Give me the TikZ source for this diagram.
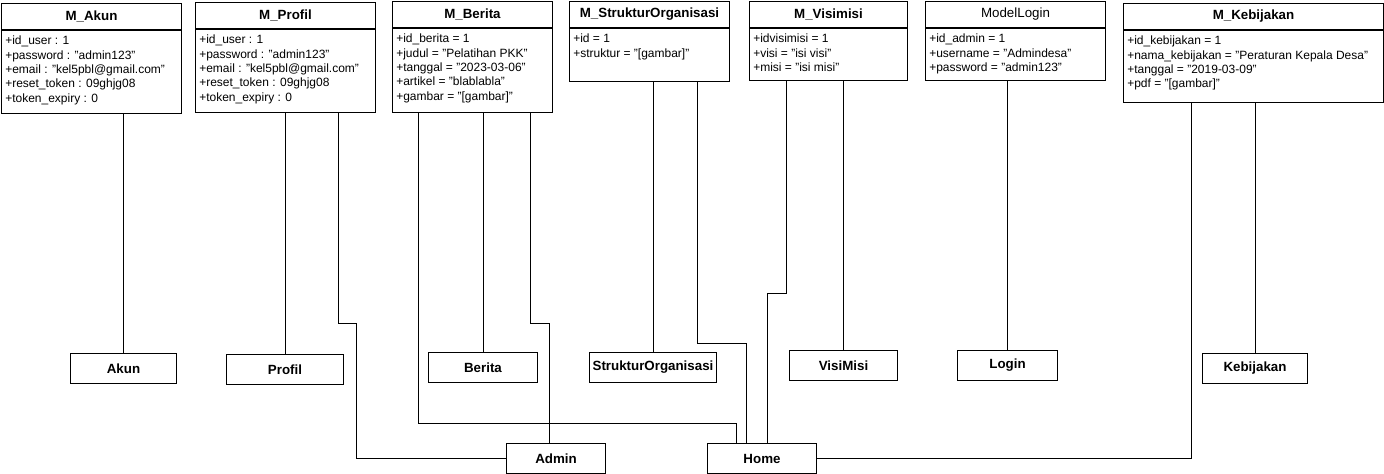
\documentclass[tikz,border=0pt]{standalone}
\usepackage{fontspec}
\setmainfont{Liberation Sans}
\usepackage{tikz}
\usetikzlibrary{positioning}
\newdimen\pxl
\pxl=0.75pt
\tikzset{
  classhead/.style={draw, line width=0.75pt, anchor=north west, minimum height=26\pxl, inner sep=0pt, font=\bfseries},
  classbody/.style={draw, line width=0.75pt, inner sep=0pt},
  attrtext/.style={anchor=north west, align=left, inner xsep=4\pxl, inner ysep=6\pxl},
  viewbox/.style={draw, line width=0.75pt, anchor=north west, minimum height=30\pxl, inner sep=0pt, font=\bfseries},
  link/.style={line width=0.75pt}
}

\begin{document}
\begin{tikzpicture}[x=0.75pt, y=-0.75pt, font=\fontsize{9}{10.7}\selectfont]
    \useasboundingbox (0,0) rectangle (1384,474);

    \node[classhead, minimum width=180\pxl] (mAkun) at (1,3) {M\_Akun};
    \node[classbody, minimum width=180\pxl, minimum height=83\pxl, below=0pt of mAkun] (mAkunBody) {};
    \node[attrtext] (mAkunText) at (mAkunBody.north west) {
        +id\_user : 1\\
        +password : "admin123"\\
        +email : "kel5pbl@gmail.com"\\
        +reset\_token : 09ghjg08\\
        +token\_expiry : 0
    };

    \node[classhead, minimum width=180\pxl] (mProfil) at (195,2) {M\_Profil};
    \node[classbody, minimum width=180\pxl, minimum height=83\pxl, below=0pt of mProfil] (mProfilBody) {};
    \node[attrtext] (mProfilText) at (mProfilBody.north west) {
        +id\_user : 1\\
        +password : "admin123"\\
        +email : "kel5pbl@gmail.com"\\
        +reset\_token : 09ghjg08\\
        +token\_expiry : 0
    };

    \node[classhead, minimum width=160\pxl] (mBerita) at (392,1) {M\_Berita};
    \node[classbody, minimum width=160\pxl, minimum height=84\pxl, below=0pt of mBerita] (mBeritaBody) {};
    \node[attrtext] (mBeritaText) at (mBeritaBody.north west) {
        +id\_berita = 1\\
        +judul = "Pelatihan PKK"\\
        +tanggal = "2023-03-06"\\
        +artikel = "blablabla"\\
        +gambar = "[gambar]"
    };

    \node[classhead, minimum width=160\pxl] (mStruktur) at (569,1) {M\_StrukturOrganisasi};
    \node[classbody, minimum width=160\pxl, minimum height=53\pxl, below=0pt of mStruktur] (mStrukturBody) {};
    \node[attrtext] (mStrukturText) at (mStrukturBody.north west) {
        +id = 1\\
        +struktur = "[gambar]"
    };

    \node[classhead, minimum width=158\pxl] (mVisimisi) at (749,1) {M\_Visimisi};
    \node[classbody, minimum width=158\pxl, minimum height=52\pxl, below=0pt of mVisimisi] (mVisimisiBody) {};
    \node[attrtext] (mVisimisiText) at (mVisimisiBody.north west) {
        +idvisimisi = 1\\
        +visi = "isi visi"\\
        +misi = "isi misi"
    };

    \node[classhead, minimum width=180\pxl, font=\mdseries] (mLogin) at (925,1) {ModelLogin};
    \node[classbody, minimum width=180\pxl, minimum height=52\pxl, below=0pt of mLogin] (mLoginBody) {};
    \node[attrtext] (mLoginText) at (mLoginBody.north west) {
        +id\_admin = 1\\
        +username = "Admindesa"\\
        +password = "admin123"
    };

    \node[classhead, minimum width=260\pxl] (mKebijakan) at (1123,3) {M\_Kebijakan};
    \node[classbody, minimum width=260\pxl, minimum height=72\pxl, below=0pt of mKebijakan] (mKebijakanBody) {};
    \node[attrtext] (mKebijakanText) at (mKebijakanBody.north west) {
        +id\_kebijakan = 1\\
        +nama\_kebijakan = "Peraturan Kepala Desa"\\
        +tanggal = "2019-03-09"\\
        +pdf = "[gambar]"
    };

    \node[viewbox, minimum width=106\pxl] (vAkun) at (70,353) {Akun};
    \node[viewbox, minimum width=117\pxl] (vProfil) at (226,354) {Profil};
    \node[viewbox, minimum width=109\pxl] (vBerita) at (428,352) {Berita};
    \node[viewbox, minimum width=127\pxl] (vStruktur) at (589,352) {StrukturOrganisasi};
    \node[viewbox, minimum width=108\pxl] (vVisiMisi) at (789,350) {VisiMisi};
    \node[viewbox, minimum width=100\pxl] (vLogin) at (957,350) {Login};
    \node[viewbox, minimum width=105\pxl] (vKebijakan) at (1202,353) {Kebijakan};
    \node[viewbox, minimum width=99\pxl] (vAdmin) at (506,443) {Admin};
    \node[viewbox, minimum width=109\pxl] (vHome) at (707,443) {Home};

    \draw[link] (mAkunBody.south -| vAkun.north) -- (vAkun.north);
    \draw[link] (mProfilBody.south -| vProfil.north) -- (vProfil.north);
    \draw[link] (mBeritaBody.south -| vBerita.north) -- (vBerita.north);
    \draw[link] (mStrukturBody.south -| vStruktur.north) -- (vStruktur.north);
    \draw[link] (mVisimisiBody.south -| vVisiMisi.north) -- (vVisiMisi.north);
    \draw[link] (mLoginBody.south -| vLogin.north) -- (vLogin.north);
    \draw[link] (mKebijakanBody.south -| vKebijakan.north) -- (vKebijakan.north);

    \draw[link] (338.5,0 |- mProfilBody.south) |- (356.5,323.5) |- (vAdmin.west);
    \draw[link] (530.5,0 |- mBeritaBody.south) |- (549.5,323.5) -- (549.5,0 |- vAdmin.north);
    \draw[link] (418.5,0 |- mBeritaBody.south) |- (736.5,423.5) -- (736.5,0 |- vHome.north);
    \draw[link] (697.5,0 |- mStrukturBody.south) |- (746.5,343.5) -- (746.5,0 |- vHome.north);
    \draw[link] (786.5,0 |- mVisimisiBody.south) |- (767.5,293.5) -- (767.5,0 |- vHome.north);
    \draw[link] (1191.5,0 |- mKebijakanBody.south) |- (vHome.east);
\end{tikzpicture}
\end{document}
